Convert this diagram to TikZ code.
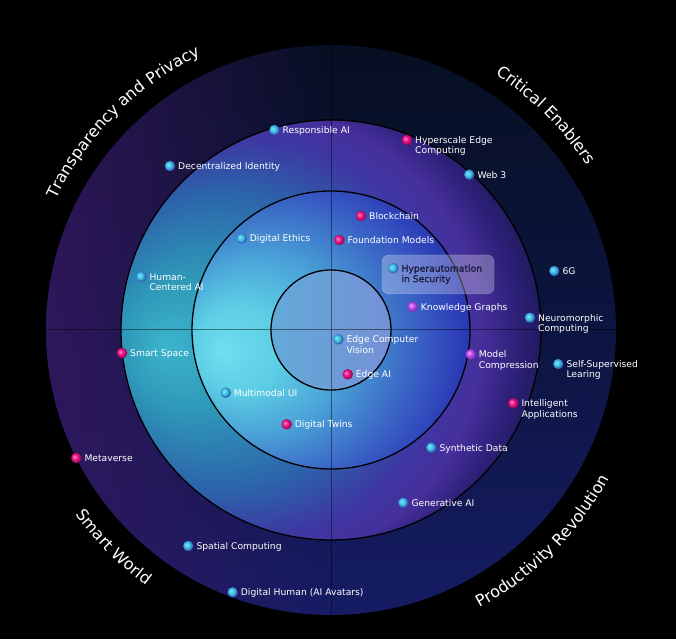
\documentclass[tikz,border=0pt]{standalone}
\usepackage{fontspec}
\setmainfont{DejaVu Sans}
\newfontfamily\boxfam[FakeBold=1.2]{DejaVu Sans}
\usetikzlibrary{decorations.text,fadings}

\definecolor{oTop}{HTML}{070F22}
\definecolor{oMid}{HTML}{0C1540}
\definecolor{oBot}{HTML}{161C64}
\definecolor{oPur}{HTML}{3A1864}
\definecolor{rA}{HTML}{3CB4CC}
\definecolor{rB}{HTML}{2E98B8}
\definecolor{rC}{HTML}{2C62AA}
\definecolor{rD}{HTML}{3E36A2}
\definecolor{rE}{HTML}{46309C}
\definecolor{rF}{HTML}{2E2079}
\definecolor{rG}{HTML}{1A1A58}
\definecolor{tA}{HTML}{6EE0F0}
\definecolor{tB}{HTML}{5CCDE4}
\definecolor{tC}{HTML}{4AA2D8}
\definecolor{tD}{HTML}{3F78CA}
\definecolor{tE}{HTML}{3656C2}
\definecolor{tF}{HTML}{2A36B2}
\definecolor{inL}{HTML}{62AAD8}
\definecolor{inR}{HTML}{7690D6}
\definecolor{cyL}{HTML}{7AE8F5}
\definecolor{cyM}{HTML}{3CC0E0}
\definecolor{cyD}{HTML}{3240A8}
\definecolor{mgL}{HTML}{FF8AD0}
\definecolor{mgM}{HTML}{EE1A8A}
\definecolor{mgD}{HTML}{8E0048}
\definecolor{puL}{HTML}{F0B0FF}
\definecolor{puM}{HTML}{C050EA}
\definecolor{puD}{HTML}{7826B0}
\definecolor{boxtext}{HTML}{1C1D3E}

\pgfdeclareradialshading{ringtwosh}{\pgfpoint{-20bp}{-2bp}}{color(0bp)=(rA); color(8bp)=(rB); color(18bp)=(rC); color(24bp)=(rD); color(27bp)=(rE); color(30bp)=(rF); color(33bp)=(rG); color(50bp)=(rG)}
\pgfdeclareradialshading{ringthreesh}{\pgfpoint{-20bp}{-4bp}}{color(0bp)=(tA); color(8bp)=(tB); color(16bp)=(tC); color(22bp)=(tD); color(27bp)=(tE); color(32bp)=(tF); color(50bp)=(tF)}
\pgfdeclareradialshading{dotcyansh}{\pgfpoint{-9bp}{7bp}}{color(0bp)=(cyL); color(14bp)=(cyM); color(27bp)=(cyD); color(50bp)=(cyD)}
\pgfdeclareradialshading{dotmagsh}{\pgfpoint{-9bp}{7bp}}{color(0bp)=(mgL); color(12bp)=(mgM); color(27bp)=(mgD); color(50bp)=(mgD)}
\pgfdeclareradialshading{dotpursh}{\pgfpoint{-9bp}{7bp}}{color(0bp)=(puL); color(12bp)=(puM); color(27bp)=(puD); color(50bp)=(puD)}

\tikzfading[name=purfade, left color=transparent!25, right color=transparent!100, middle color=transparent!100]

\newcommand\lblfont{\fontsize{9.2pt}{10.4pt}\selectfont}
\newcommand\ttlfont{\fontsize{16pt}{16pt}\selectfont}
\newcommand\lbltwo[2]{\begin{tabular}[t]{@{}l@{}}#1\\#2\end{tabular}}
\newcommand\mkdot[4]{%
  \node[#1] (d#2) at (#3) {};
  \node[lbl] (t#2) at ([shift={(8,-3.4)}]d#2.center) {#4};}

\tikzset{
  dotbase/.style={circle, inner sep=0pt, minimum size=10.5pt, shade},
  dotcyan/.style={dotbase, shading=dotcyansh},
  dotmag/.style={dotbase, shading=dotmagsh},
  dotpur/.style={dotbase, shading=dotpursh},
  lbl/.style={anchor=base west, inner sep=0pt, text=white, font=\lblfont},
  boxlbl/.style={anchor=base west, inner sep=0pt, text=boxtext, font=\boxfam\lblfont},
  ringline/.style={draw=black, line width=1.3pt},
  axisline/.style={draw=black, draw opacity=0.45, line width=1pt},
  hibox/.style={draw=white, draw opacity=0.35, fill=white, fill opacity=0.28,
    rounded corners=7pt, minimum width=112pt, minimum height=39pt, inner sep=0pt},
  ttl/.style={decorate, decoration={text along path, text align=center,
    text color=white, text={|\ttlfont|#1}}}
}

\begin{document}
\begin{tikzpicture}[x=1pt,y=1pt]
\fill[black] (0,0) rectangle (676,639);
\useasboundingbox (0,0) rectangle (676,639);
\coordinate (C) at (331,309);

% discs
\shade[top color=oTop, bottom color=oBot, middle color=oMid] (C) circle[radius=285];
\fill[oPur, path fading=purfade] (C) circle[radius=285];
\shade[shading=ringtwosh] (C) circle[radius=210];
\shade[shading=ringthreesh] (C) circle[radius=139];
\shade[left color=inL, right color=inR] (C) circle[radius=60];
\draw[ringline] (C) circle[radius=210];
\draw[ringline] (C) circle[radius=139];
\draw[ringline] (C) circle[radius=60];

% axes
\coordinate (W) at (46,309);
\coordinate (E) at (616,309);
\coordinate (N) at (331,594);
\coordinate (S) at (331,24);
\draw[axisline] (W) -- (E);
\draw[axisline] (N) -- (S);

% curved titles
\path[ttl={Transparency and Privacy}] (C) ++(175:304) arc[start angle=175, end angle=95, radius=304];
\path[ttl={Critical Enablers}] (C) ++(85:304) arc[start angle=85, end angle=5, radius=304];
\path[ttl={Smart World}] (C) ++(190:315) arc[start angle=190, end angle=260, radius=315];
\path[ttl={Productivity Revolution}] (C) ++(280:315) arc[start angle=280, end angle=350, radius=315];

% highlight box
\node[hibox] (hbox) at (438,364.5) {};
\node[dotcyan] (d9) at (393.3,370.7) {};
\node[boxlbl] (t9) at ([shift={(8,-3.4)}]d9.center) {\lbltwo{Hyperautomation}{in Security}};

% items
\mkdot{dotcyan}{1}{274.5,509}{Responsible AI}
\mkdot{dotcyan}{2}{170,473}{Decentralized Identity}
\mkdot{dotcyan}{3}{241.7,400.5}{Digital Ethics}
\mkdot{dotcyan}{4}{141.3,362.3}{\lbltwo{Human-}{Centered AI}}
\mkdot{dotmag}{5}{407,499}{\lbltwo{Hyperscale Edge}{Computing}}
\mkdot{dotcyan}{6}{469.3,464.3}{Web 3}
\mkdot{dotmag}{7}{361,423}{Blockchain}
\mkdot{dotmag}{8}{339.3,399}{Foundation Models}
\mkdot{dotcyan}{10}{554.3,368}{6G}
\mkdot{dotpur}{11}{412.7,332.3}{Knowledge Graphs}
\mkdot{dotcyan}{12}{530,321.3}{\lbltwo{Neuromorphic}{Computing}}
\mkdot{dotcyan}{13}{338.3,299.7}{\lbltwo{Edge Computer}{Vision}}
\mkdot{dotpur}{14}{470.7,284.7}{\lbltwo{Model}{Compression}}
\mkdot{dotcyan}{15}{558.3,275}{\lbltwo{Self-Supervised}{Learing}}
\mkdot{dotmag}{16}{122,286}{Smart Space}
\mkdot{dotmag}{17}{347.7,264.7}{Edge AI}
\mkdot{dotcyan}{18}{225.7,246.3}{Multimodal UI}
\mkdot{dotmag}{19}{513.3,235.7}{\lbltwo{Intelligent}{Applications}}
\mkdot{dotmag}{20}{286.7,214.7}{Digital Twins}
\mkdot{dotcyan}{21}{431.3,191.3}{Synthetic Data}
\mkdot{dotmag}{22}{76.3,181}{Metaverse}
\mkdot{dotcyan}{23}{403.3,136.3}{Generative AI}
\mkdot{dotcyan}{24}{188.3,93}{Spatial Computing}
\mkdot{dotcyan}{25}{232.7,46.7}{Digital Human (AI Avatars)}
\end{tikzpicture}
\end{document}
